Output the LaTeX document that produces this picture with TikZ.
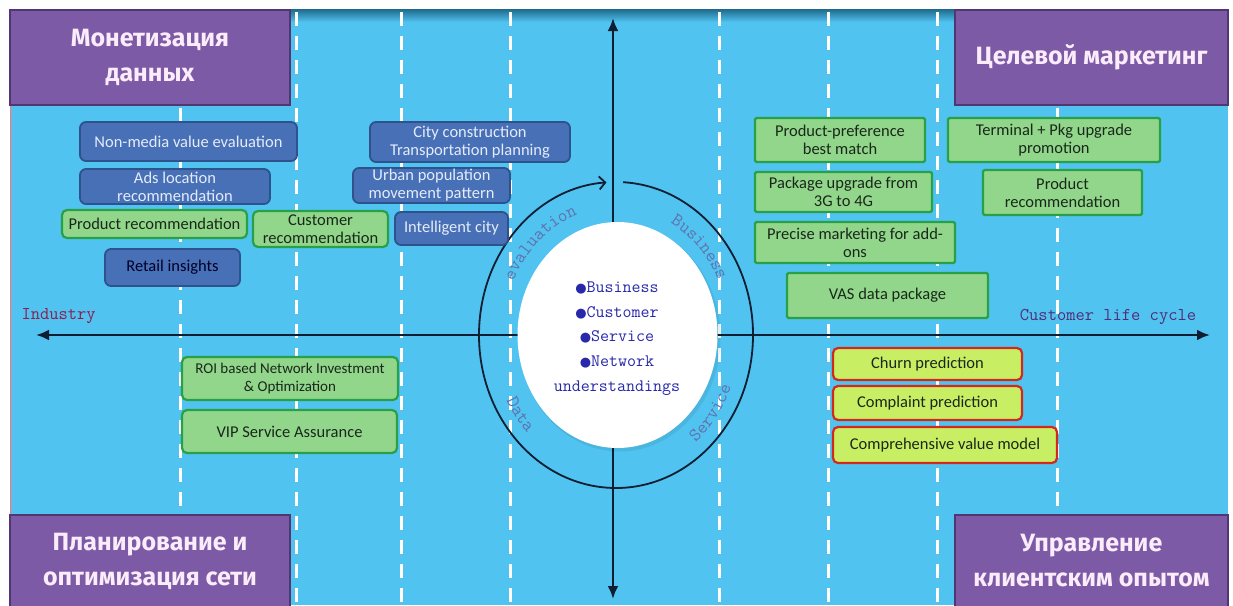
\documentclass[tikz,border=0pt]{standalone}
\usepackage{fontspec}
\setmainfont{Carlito}
\newfontfamily\ttlfont{Fira Sans}
\newfontfamily\symfont{DejaVu Sans}
\usetikzlibrary{arrows.meta,calc,decorations.text,shapes.geometric}
\definecolor{bgblue}{RGB}{80,195,240}
\definecolor{topdark}{RGB}{30,105,140}
\definecolor{purp}{RGB}{125,90,165}
\definecolor{purpline}{RGB}{80,55,115}
\definecolor{purptext}{RGB}{250,236,250}
\definecolor{bfill}{RGB}{72,112,182}
\definecolor{bline}{RGB}{45,82,140}
\definecolor{btext}{RGB}{228,236,250}
\definecolor{gfill}{RGB}{146,214,140}
\definecolor{gline}{RGB}{40,160,70}
\definecolor{gtext}{RGB}{25,40,25}
\definecolor{yfill}{RGB}{200,238,100}
\definecolor{rline}{RGB}{210,40,30}
\definecolor{axcol}{RGB}{15,30,50}
\definecolor{ctrblue}{RGB}{40,40,170}
\definecolor{ringtxt}{RGB}{95,115,175}
\definecolor{indcol}{RGB}{140,30,80}
\definecolor{clccol}{RGB}{80,45,120}
\newcommand\bxfont{\fontsize{16.5}{18}\selectfont}
\newcommand\bul{{\symfont\fontsize{13}{13}\selectfont ●}}
\begin{document}
\begin{tikzpicture}[x=1pt,y=-1pt,
  bbox/.style={draw=bline, fill=bfill, line width=1.8pt, rounded corners=6pt, text=btext, inner sep=0pt, align=center, font=\bxfont},
  gbox/.style={draw=gline, fill=gfill, line width=2.2pt, rounded corners=5pt, text=gtext, inner sep=0pt, align=center, font=\bxfont},
  gsq/.style={gbox, rounded corners=1.5pt},
  rbox/.style={draw=rline, fill=yfill, line width=2.2pt, rounded corners=5pt, text=gtext, inner sep=0pt, align=center, font=\bxfont},
  pbox/.style={draw=purpline, fill=purp, line width=1.5pt, text=purptext, inner sep=0pt, align=center, font=\ttlfont\bfseries\fontsize{25}{35}\selectfont},
  dashline/.style={white, line width=3pt, dash pattern=on 14pt off 10pt},
  axis/.style={axcol, line width=2.6pt},
  ring/.style={axcol, line width=1.8pt},
  ringlbl/.style={decorate, decoration={text along path, text align=center, text={#1}}}
]
\useasboundingbox (0,0) rectangle (1233,605);
\fill[white] (0,0) rectangle (1233,605);
\fill[bgblue] (10,9) rectangle (1228,605);
\shade[top color=topdark, bottom color=bgblue] (10,9) rectangle (1228,22);
\draw[red!55!white, line width=1pt] (10,9) -- (10,605);
% dashed guide lines
\foreach \x in {180,296,401,510,719,828,937,1057}
  \draw[dashline] (\x,12) -- (\x,605);
% quadrant titles
\node[pbox, minimum width=280pt, minimum height=95pt] (qTL) at (150,57.5) {Монетизация\\данных};
\node[pbox, minimum width=273pt, minimum height=95pt] (qTR) at (1091.5,57.5) {Целевой маркетинг};
\node[pbox, minimum width=280pt, minimum height=92pt] (qBL) at (150,561) {Планирование и\\оптимизация сети};
\node[pbox, minimum width=273pt, minimum height=92pt] (qBR) at (1091.5,561) {Управление\\клиентским опытом};
% axes
\coordinate (axL) at (36,335);
\coordinate (axR) at (1210,335);
\coordinate (axT) at (613,18);
\coordinate (axB) at (613,599);
\draw[axis, {Latex[length=13pt,width=11pt]}-{Latex[length=13pt,width=11pt]}] (axL) -- (axR);
\draw[axis, {Latex[length=13pt,width=11pt]}-{Latex[length=13pt,width=11pt]}] (axT) -- (axB);
\node[anchor=west, font=\ttfamily\fontsize{18}{18}\selectfont, text=indcol] (ind) at (18,316) {Industry};
\node[font=\ttfamily\fontsize{18}{18}\selectfont, text=clccol] (clc) at (1108,317) {Customer life cycle};
% ring
\coordinate (rc) at (616,335);
\draw[ring, -{Straight Barb[length=6pt,width=13pt]}] ($(rc)+(-87:137 and 153)$) arc[start angle=-87, end angle=266, x radius=137, y radius=153];
\path[ringlbl={|\ttfamily\fontsize{18.5}{18}\selectfont\color{ringtxt}|evaluation}] ($(rc)+(-181:113 and 128)$) arc[start angle=-181, end angle=-81, x radius=113, y radius=128];
\path[ringlbl={|\ttfamily\fontsize{18.5}{18}\selectfont\color{ringtxt}|Business}] ($(rc)+(-95:113 and 128)$) arc[start angle=-95, end angle=5, x radius=113, y radius=128];
\path[ringlbl={|\ttfamily\fontsize{18.5}{18}\selectfont\color{ringtxt}|Service}] ($(rc)+(87.5:124 and 140)$) arc[start angle=87.5, end angle=-12.5, x radius=124, y radius=140];
\path[ringlbl={|\ttfamily\fontsize{18.5}{18}\selectfont\color{ringtxt}|Data}] ($(rc)+(-168:124 and 140)$) arc[start angle=-168, end angle=-268, x radius=124, y radius=140];
% centre ellipse
\fill[black, opacity=0.07] (619.5,337.5) ellipse[x radius=101, y radius=114];
\node[ellipse, fill=white, inner sep=0pt, minimum width=200pt, minimum height=226pt] (core) at (617.5,335) {};
\node[align=center, font=\ttfamily\fontsize{17.5}{24.7}\selectfont, text=ctrblue] (ctr) at (617,338.5)
  {\bul Business\\\bul Customer\\\bul Service\\\bul Network\\understandings};
% left-top blue / green boxes
\node[bbox, minimum width=217pt, minimum height=39pt] (nmv) at (188.5,141.5) {Non-media value evaluation};
\node[bbox, minimum width=190pt, minimum height=35pt] (ads) at (175,186.5) {Ads location\\recommendation};
\node[gbox, minimum width=185pt, minimum height=28pt] (prodL) at (154.5,224) {Product recommendation};
\node[gbox, minimum width=135pt, minimum height=36pt] (custr) at (320.5,229) {Customer\\recommendation};
\node[bbox, minimum width=135pt, minimum height=37pt, text=black!85!blue] (retail) at (172.5,267.5) {Retail insights};
\node[bbox, minimum width=200pt, minimum height=40pt] (city) at (470,142) {City construction\\Transportation planning};
\node[bbox, minimum width=157pt, minimum height=35pt] (urban) at (431.5,185.5) {Urban population\\movement pattern};
\node[bbox, minimum width=113pt, minimum height=33pt] (intel) at (451.5,228.5) {Intelligent city};
% right-top green boxes
\node[gsq, minimum width=170pt, minimum height=44pt] (pref) at (840,140) {Product-preference\\best match};
\node[gsq, minimum width=212pt, minimum height=44pt] (term) at (1054,140) {Terminal + Pkg upgrade\\promotion};
\node[gsq, minimum width=177pt, minimum height=40pt] (pkg) at (843.5,192) {Package upgrade from\\3G to 4G};
\node[gsq, minimum width=159pt, minimum height=45pt] (prodR) at (1062.5,192.5) {Product\\recommendation};
\node[gsq, minimum width=200pt, minimum height=41pt] (prec) at (855,242.5) {Precise marketing for add-\\ons};
\node[gsq, minimum width=201pt, minimum height=45pt] (vas) at (887.5,295.5) {VAS data package};
% left-bottom
\node[gbox, minimum width=216pt, minimum height=43pt, font=\fontsize{15}{18}\selectfont] (roi) at (290,378.5) {ROI based Network Investment\\\& Optimization};
\node[gbox, minimum width=215pt, minimum height=43pt] (vip) at (289.5,431.5) {VIP Service Assurance};
% right-bottom
\node[rbox, minimum width=189pt, minimum height=32pt] (churn) at (927.5,364) {Churn prediction};
\node[rbox, minimum width=189pt, minimum height=34pt] (compl) at (927.5,403) {Complaint prediction};
\node[rbox, minimum width=224pt, minimum height=36pt] (compr) at (945,445) {Comprehensive value model};
\end{tikzpicture}
\end{document}
